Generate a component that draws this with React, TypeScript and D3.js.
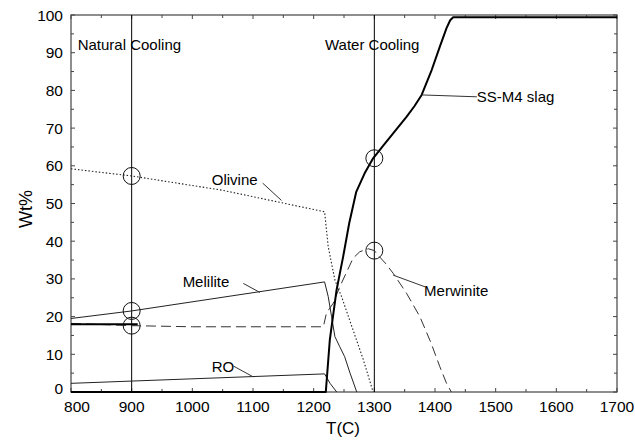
import React, { useRef, useEffect } from 'react';
import * as d3 from 'd3';

type Pt = [number, number];

// T(C), Wt%
const slag: Pt[] = [[800, 0], [1220, 0], [1226.6, 13.8], [1237.7, 27], [1248.6, 35.9], [1258.5, 44.7], [1270, 53], [1284, 58], [1298, 62], [1314, 65.2], [1331, 68.6], [1353, 73], [1366, 75.8], [1378, 78.8], [1394.5, 85.4], [1408, 91.6], [1419, 96.5], [1425, 98.6], [1430, 99.4], [1700, 99.4]];
const olivine: Pt[] = [[800, 59.2], [900, 57.3], [1050, 53.5], [1218, 47.8], [1224, 38.5], [1235, 29.7], [1246, 25.3], [1265, 16.4], [1282, 8.5], [1298, 0]];
const melilite: Pt[] = [[800, 19.5], [900, 21.5], [1218, 29.2], [1224, 25.3], [1229.5, 20], [1235, 14.7], [1243, 12], [1251, 9.4], [1260, 5], [1271, 0]];
const ro: Pt[] = [[800, 2.3], [900, 2.9], [1218, 4.8], [1227, 2.3], [1238, 0]];
const merwinite: Pt[] = [[800, 18.2], [900, 17.6], [1000, 17.3], [1216, 17.3], [1221, 20.9], [1232, 23.5], [1243, 27.9], [1265, 35.5], [1276, 37.2], [1290, 38], [1300, 37.5], [1306, 36.3], [1318, 34.2], [1331, 31.5], [1353, 26.2], [1375, 20], [1393, 13.2], [1408, 6.7], [1419, 2.3], [1427, 0]];
const merwiniteStart: Pt[] = [[800, 18], [910, 18]];

const coolingLines = [900, 1300];
const circles: Pt[] = [[900, 57.3], [900, 21.5], [900, 17.6], [1300, 62], [1300, 37.5]];

const xTicks = [800, 900, 1000, 1100, 1200, 1300, 1400, 1500, 1600, 1700];
const yTicks = [0, 10, 20, 30, 40, 50, 60, 70, 80, 90, 100];

// label text anchor, leader from, leader to (data coords)
const labels: { text: string; at: Pt; from?: Pt; to?: Pt }[] = [
    { text: 'Natural Cooling', at: [811, 90.6] },
    { text: 'Water Cooling', at: [1218.6, 90.7] },
    { text: 'Olivine', at: [1032, 54.9], from: [1116, 55.4], to: [1147, 50.8] },
    { text: 'Melilite', at: [984, 27.9], from: [1084, 28.8], to: [1111.5, 26.4] },
    { text: 'RO', at: [1032, 5.3], from: [1067.5, 6.9], to: [1100.5, 4.0] },
    { text: 'SS-M4 slag', at: [1469, 76.9], from: [1378, 78.8], to: [1469, 78.3] },
    { text: 'Merwinite', at: [1382, 25.5], from: [1331, 31], to: [1383.5, 27.9] },
];

const FONT = 'Arial, "Liberation Sans", Helvetica, sans-serif';

const PhaseChart: React.FC = () => {
    const svgRef = useRef<SVGSVGElement>(null);

    useEffect(() => {
        if (!svgRef.current) return;
        const svg = d3.select(svgRef.current);
        svg.selectAll('*').remove();

        const left = 71, right = 617, top = 15, bottom = 392;
        const x = d3.scaleLinear().domain([800, 1700]).range([left, right]);
        const y = d3.scaleLinear().domain([0, 100]).range([bottom, top]);

        const line = d3.line<Pt>().x(d => x(d[0])).y(d => y(d[1]));

        // ticks (inward, on all four sides)
        const xMinor = d3.range(850, 1700, 100);
        const yMinor = d3.range(5, 100, 10);
        const tickG = svg.append('g').attr('stroke', '#444').attr('stroke-width', 1);
        const addTicks = (vals: number[], len: number) => {
            vals.forEach(v => {
                tickG.append('line').attr('x1', x(v)).attr('x2', x(v)).attr('y1', bottom).attr('y2', bottom - len);
                tickG.append('line').attr('x1', x(v)).attr('x2', x(v)).attr('y1', top).attr('y2', top + len);
            });
        };
        const addYTicks = (vals: number[], len: number) => {
            vals.forEach(v => {
                tickG.append('line').attr('y1', y(v)).attr('y2', y(v)).attr('x1', left).attr('x2', left + len);
                tickG.append('line').attr('y1', y(v)).attr('y2', y(v)).attr('x1', right).attr('x2', right - len);
            });
        };
        addTicks(xTicks, 4);
        addTicks(xMinor, 3);
        addYTicks(yTicks, 4);
        addYTicks(yMinor, 3);

        svg.append('rect')
            .attr('x', left).attr('y', top)
            .attr('width', right - left).attr('height', bottom - top)
            .attr('fill', 'none').attr('stroke', '#444').attr('stroke-width', 1.2);

        // tick labels
        svg.append('g').selectAll('text').data(xTicks).enter().append('text')
            .attr('x', (d, i) => x(d) + (i === 0 ? 6 : 0))
            .attr('y', 412)
            .attr('text-anchor', 'middle')
            .attr('font-family', FONT).attr('font-size', 15.5)
            .text(d => d);
        svg.append('g').selectAll('text').data(yTicks).enter().append('text')
            .attr('x', 63)
            .attr('y', d => y(d) + 5.5 - (d === 0 ? 4 : 0))
            .attr('text-anchor', 'end')
            .attr('font-family', FONT).attr('font-size', 15.5)
            .text(d => d);

        // axis titles
        svg.append('text')
            .attr('x', 343).attr('y', 434)
            .attr('text-anchor', 'middle')
            .attr('font-family', FONT).attr('font-size', 17)
            .text('T(C)');
        svg.append('text')
            .attr('transform', 'translate(32,209) rotate(-90)')
            .attr('text-anchor', 'middle')
            .attr('font-family', FONT).attr('font-size', 18)
            .text('Wt%');

        // vertical cooling lines
        svg.append('g').selectAll('line').data(coolingLines).enter().append('line')
            .attr('x1', d => x(d)).attr('x2', d => x(d))
            .attr('y1', top).attr('y2', bottom)
            .attr('stroke', '#000').attr('stroke-width', 1);

        // series
        const drawLine = (data: Pt[], width: number, dash: string | null, color: string) => {
            svg.append('path')
                .datum(data)
                .attr('d', line)
                .attr('fill', 'none')
                .attr('stroke', color)
                .attr('stroke-width', width)
                .attr('stroke-dasharray', dash)
                .attr('stroke-linejoin', 'round');
        };
        drawLine(olivine, 1.1, '1.5,2', '#222');
        drawLine(melilite, 1, null, '#222');
        drawLine(ro, 1, null, '#222');
        drawLine(merwinite, 1, '10,5', '#333');
        drawLine(merwiniteStart, 2, null, '#000');
        drawLine(slag, 2, null, '#000');

        // circles
        svg.append('g').selectAll('circle').data(circles).enter().append('circle')
            .attr('cx', d => x(d[0])).attr('cy', d => y(d[1]))
            .attr('r', 8.5)
            .attr('fill', 'none').attr('stroke', '#111').attr('stroke-width', 1);

        // labels and leaders
        const lg = svg.append('g');
        labels.forEach(l => {
            if (l.from && l.to) {
                lg.append('line')
                    .attr('x1', x(l.from[0])).attr('y1', y(l.from[1]))
                    .attr('x2', x(l.to[0])).attr('y2', y(l.to[1]))
                    .attr('stroke', '#333').attr('stroke-width', 1);
            }
            lg.append('text')
                .attr('x', x(l.at[0])).attr('y', y(l.at[1]))
                .attr('font-family', FONT).attr('font-size', 15)
                .attr('fill', '#000')
                .text(l.text);
        });
    }, []);

    return <svg ref={svgRef} width={635} height={444} style={{ display: 'block', background: '#fff' }} />;
};

export default function App() {
    return (
        <div style={{ position: 'absolute', left: 0, top: 0 }}>
            <PhaseChart />
        </div>
    );
}
